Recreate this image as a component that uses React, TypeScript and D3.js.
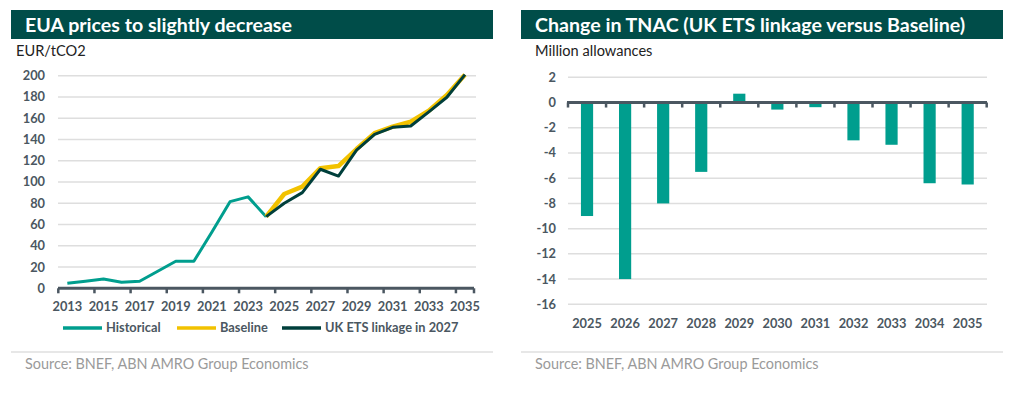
import { useEffect, useRef } from 'react';
import * as d3 from 'd3';

const years = ['2013', '2014', '2015', '2016', '2017', '2018', '2019', '2020', '2021', '2022', '2023', '2024',
  '2025', '2026', '2027', '2028', '2029', '2030', '2031', '2032', '2033', '2034', '2035'];

const historicalYears = ['2013', '2014', '2015', '2016', '2017', '2018', '2019', '2020', '2021', '2022', '2023', '2024'];
const historical = [4.7, 6.7, 8.7, 5.6, 6.6, 16, 25.4, 25.4, 53, 81.5, 86, 67.4];

const scenarioYears = ['2024', '2025', '2026', '2027', '2028', '2029', '2030', '2031', '2032', '2033', '2034', '2035'];
const baseline = [67.4, 88.7, 95.6, 113, 115, 131, 146, 152, 156.7, 167, 181.8, 201];
const ukEts = [67.4, 80, 90, 112, 105.6, 130, 144.8, 151.4, 152.7, 166, 179.7, 201];

const priceTicks = [0, 20, 40, 60, 80, 100, 120, 140, 160, 180, 200];

const tnacYears = ['2025', '2026', '2027', '2028', '2029', '2030', '2031', '2032', '2033', '2034', '2035'];
const tnacValues = [-9, -14, -8, -5.5, 0.7, -0.56, -0.37, -3, -3.35, -6.4, -6.5];
const tnacTicks = [2, 0, -2, -4, -6, -8, -10, -12, -14, -16];

const TEAL = '#009e8e';
const YELLOW = '#f2c200';
const DARK = '#003f3b';
const HEADER = '#004d49';
const TEXT = '#4b5761';
const GRID = '#dedede';
const FONT = 'Lato, "Open Sans", sans-serif';
const LABEL_SIZE = '12.8px';

const App = () => {
  const svgRef = useRef<SVGSVGElement>(null);

  useEffect(() => {
    if (!svgRef.current) return;
    const svg = d3.select(svgRef.current);
    svg.selectAll('*').remove();

    // Panel chrome
    const panels = [
      { x: 11, w: 482, title: 'EUA prices to slightly decrease', unit: 'EUR/tCO2', unitX: 16 },
      { x: 521, w: 482, title: 'Change in TNAC (UK ETS linkage versus Baseline)', unit: 'Million allowances', unitX: 535 }
    ];
    panels.forEach(p => {
      svg.append('rect').attr('x', p.x).attr('y', 10).attr('width', p.w).attr('height', 29).attr('fill', HEADER);
      svg.append('text').attr('x', p.x + 14).attr('y', 32)
        .style('font-family', FONT).style('font-size', '19.6px').style('font-weight', 700)
        .attr('fill', '#fff').text(p.title);
      svg.append('text').attr('x', p.unitX).attr('y', 56)
        .style('font-family', FONT).style('font-size', '14.6px').attr('fill', '#222').text(p.unit);
      svg.append('line').attr('x1', p.x).attr('x2', p.x + p.w).attr('y1', 352).attr('y2', 352)
        .attr('stroke', '#cfcfcf').attr('stroke-width', 1);
      svg.append('text').attr('x', p.x + 14).attr('y', 369)
        .style('font-family', FONT).style('font-size', '14.4px').attr('fill', '#9a9a9a')
        .text('Source: BNEF, ABN AMRO Group Economics');
    });

    // Left: line chart
    const x = d3.scaleBand().domain(years).range([58.3, 474]);
    const y = d3.scaleLinear().domain([0, 200]).range([288.3, 75.7]);
    const cx = (d: string) => (x(d) || 0) + x.bandwidth() / 2;

    const left = svg.append('g');
    left.selectAll('.grid').data(priceTicks.filter(t => t > 0)).join('line')
      .attr('x1', 58).attr('x2', 476).attr('y1', d => y(d)).attr('y2', d => y(d))
      .attr('stroke', GRID).attr('stroke-width', 1.5);
    left.selectAll('.ylab').data(priceTicks).join('text')
      .attr('x', 45).attr('y', d => y(d)).attr('dy', '0.35em').attr('text-anchor', 'end')
      .style('font-family', FONT).style('font-size', LABEL_SIZE).style('font-weight', 700)
      .attr('fill', TEXT).text(d => d);

    left.append('line').attr('x1', 58).attr('x2', 474).attr('y1', y(0)).attr('y2', y(0))
      .attr('stroke', TEXT).attr('stroke-width', 3);
    const tickPos = years.filter((_, i) => i % 2 === 0).map(d => x(d) || 0).concat([474]);
    left.selectAll('.tick').data(tickPos).join('line')
      .attr('x1', d => d).attr('x2', d => d).attr('y1', y(0)).attr('y2', y(0) + 5)
      .attr('stroke', TEXT).attr('stroke-width', 2.5);
    left.selectAll('.xlab').data(years.filter((_, i) => i % 2 === 0)).join('text')
      .attr('x', d => cx(d)).attr('y', 311).attr('text-anchor', 'middle')
      .style('font-family', FONT).style('font-size', LABEL_SIZE).style('font-weight', 700)
      .attr('fill', TEXT).text(d => d);

    const line = d3.line<[string, number]>().x(d => cx(d[0])).y(d => y(d[1]));
    left.append('path').datum(historicalYears.map((d, i) => [d, historical[i]] as [string, number]))
      .attr('d', line).attr('fill', 'none').attr('stroke', TEAL).attr('stroke-width', 3)
      .attr('stroke-linejoin', 'round');
    left.append('path').datum(scenarioYears.map((d, i) => [d, baseline[i]] as [string, number]))
      .attr('d', line).attr('fill', 'none').attr('stroke', YELLOW).attr('stroke-width', 4.5)
      .attr('stroke-linejoin', 'round');
    left.append('path').datum(scenarioYears.map((d, i) => [d, ukEts[i]] as [string, number]))
      .attr('d', line).attr('fill', 'none').attr('stroke', DARK).attr('stroke-width', 3)
      .attr('stroke-linejoin', 'round');

    // Legend
    const legend = [
      { label: 'Historical', color: TEAL, x: 63 },
      { label: 'Baseline', color: YELLOW, x: 177 },
      { label: 'UK ETS linkage in 2027', color: DARK, x: 282 }
    ];
    legend.forEach(l => {
      left.append('line').attr('x1', l.x).attr('x2', l.x + 39).attr('y1', 328).attr('y2', 328)
        .attr('stroke', l.color).attr('stroke-width', 3.5);
      left.append('text').attr('x', l.x + 43).attr('y', 328).attr('dy', '0.35em')
        .style('font-family', FONT).style('font-size', LABEL_SIZE).style('font-weight', 700)
        .attr('fill', TEXT).text(l.label);
    });

    // Right: bar chart
    const xb = d3.scaleBand().domain(tnacYears).range([568, 986.7]).paddingInner(0.68).paddingOuter(0.34);
    const yb = d3.scaleLinear().domain([-16, 2]).range([304.3, 77.3]);
    const right = svg.append('g');
    right.selectAll('.grid').data(tnacTicks.filter(t => t !== 0)).join('line')
      .attr('x1', 568).attr('x2', 987).attr('y1', d => yb(d)).attr('y2', d => yb(d))
      .attr('stroke', GRID).attr('stroke-width', 1.5);
    right.selectAll('.ylab').data(tnacTicks).join('text')
      .attr('x', 556).attr('y', d => yb(d)).attr('dy', '0.35em').attr('text-anchor', 'end')
      .style('font-family', FONT).style('font-size', LABEL_SIZE).style('font-weight', 700)
      .attr('fill', TEXT).text(d => d);
    right.selectAll('.bar').data(tnacValues).join('rect')
      .attr('x', (_, i) => xb(tnacYears[i]) || 0).attr('width', xb.bandwidth())
      .attr('y', d => yb(Math.max(0, d))).attr('height', d => Math.abs(yb(d) - yb(0)))
      .attr('fill', TEAL);
    const step = (986.7 - 568) / tnacYears.length;
    const bTicks = d3.range(tnacYears.length + 1).map(i => 568 + i * step);
    right.append('line').attr('x1', 567).attr('x2', 987).attr('y1', yb(0)).attr('y2', yb(0))
      .attr('stroke', TEXT).attr('stroke-width', 3);
    right.selectAll('.tick').data(bTicks).join('line')
      .attr('x1', d => d).attr('x2', d => d).attr('y1', yb(0)).attr('y2', yb(0) + 5)
      .attr('stroke', TEXT).attr('stroke-width', 2.5);
    right.selectAll('.xlab').data(tnacYears).join('text')
      .attr('x', d => (xb(d) || 0) + xb.bandwidth() / 2).attr('y', 328).attr('text-anchor', 'middle')
      .style('font-family', FONT).style('font-size', LABEL_SIZE).style('font-weight', 700)
      .attr('fill', TEXT).text(d => d);
  }, []);

  return (
    <svg ref={svgRef} width={1015} height={396}
      style={{ position: 'absolute', left: 0, top: 0, background: '#fff' }} />
  );
};

export default App;
